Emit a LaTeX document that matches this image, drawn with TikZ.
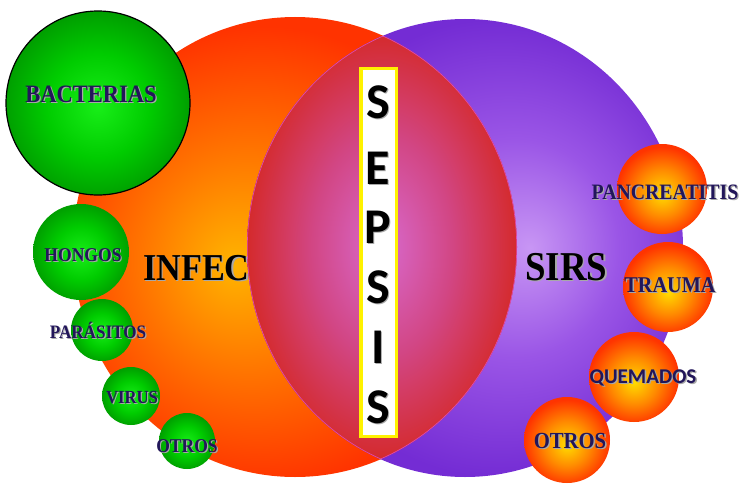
\documentclass[tikz,border=0pt]{standalone}
\usepackage{fontspec}
\setmainfont{Liberation Serif}
\newfontfamily\lblfont[FakeStretch=0.9]{Liberation Serif}
\newfontfamily\sansfont{Carlito}

% palette
\definecolor{orangeIn}{HTML}{FFB400}
\definecolor{orangeMid}{HTML}{FF7A00}
\definecolor{orangeOut}{HTML}{FF3300}
\definecolor{purpleIn}{HTML}{C896F4}
\definecolor{purpleMid}{HTML}{9A55E6}
\definecolor{purpleOut}{HTML}{742CD4}
\definecolor{lensIn}{HTML}{D86ACE}
\definecolor{lensMid}{HTML}{D24684}
\definecolor{lensOut}{HTML}{D42A2C}
\definecolor{lensEdge}{HTML}{E04CB4}
\definecolor{greenIn}{HTML}{18EE18}
\definecolor{greenMid}{HTML}{00CC00}
\definecolor{greenOut}{HTML}{00A000}
\definecolor{ballIn}{HTML}{FFDC00}
\definecolor{ballMid}{HTML}{FF8A00}
\definecolor{ballOut}{HTML}{FF3400}
\definecolor{ink}{HTML}{22165A}
\definecolor{shadowgray}{HTML}{A8A8A8}
\definecolor{frameyellow}{HTML}{FFF200}

% radial shadings (25bp = edge of the shaded shape)
\pgfdeclareradialshading{infecshade}{\pgfpoint{-7bp}{-2bp}}{%
  color(0bp)=(orangeIn); color(11bp)=(orangeMid); color(25bp)=(orangeOut); color(50bp)=(orangeOut)}
\pgfdeclareradialshading{sirsshade}{\pgfpoint{7.5bp}{0bp}}{%
  color(0bp)=(purpleIn); color(12bp)=(purpleMid); color(25bp)=(purpleOut); color(50bp)=(purpleOut)}
\pgfdeclareradialshading{lensshade}{\pgfpoint{0bp}{0bp}}{%
  color(0bp)=(lensIn); color(13bp)=(lensMid); color(25bp)=(lensOut); color(50bp)=(lensOut)}
\pgfdeclareradialshading{greenball}{\pgfpoint{0bp}{-1bp}}{%
  color(0bp)=(greenIn); color(14bp)=(greenMid); color(25bp)=(greenOut); color(50bp)=(greenOut)}
\pgfdeclareradialshading{orangeball}{\pgfpoint{0bp}{-3bp}}{%
  color(0bp)=(ballIn); color(13bp)=(ballMid); color(25bp)=(ballOut); color(50bp)=(ballOut)}

\tikzset{
  ball/.style={circle, inner sep=0pt, minimum size=#1, draw=none},
  gball/.style={ball=#1, shading=greenball},
  oball/.style={ball=#1, shading=orangeball},
  lbl/.style={font=\lblfont\bfseries\fontsize{#1}{#1}\selectfont, text=ink, anchor=base, inner sep=0pt},
  slbl/.style={font=\sansfont\bfseries\fontsize{#1}{#1}\selectfont, text=ink, anchor=base, inner sep=0pt},
  big/.style={font=\lblfont\bfseries\fontsize{#1}{#1}\selectfont, text=black, anchor=base west, inner sep=0pt},
  letter/.style={font=\sansfont\bfseries\fontsize{50}{50}\selectfont, text=black, anchor=base, inner sep=0pt},
}

% text with a soft grey drop shadow: name, position, style, text, offset
\newcommand\shadowtext[5]{%
  \node[#3, text=shadowgray, xshift=#5, yshift=-#5] (#1-sh) at (#2) {#4};
  \node[#3] (#1) at (#2) {#4};}

\begin{document}
\begin{tikzpicture}[x=1pt, y=-1pt]
  \useasboundingbox (0,0) rectangle (744,487);
  \fill[white] (0,0) rectangle (744,487);

  % INFECCION set
  \shade[shading=infecshade] (295,247) ellipse [x radius=222pt, y radius=230pt];
  \shadowtext{infec}{143,280}{big=38}{INFEC}{1.3pt}

  % SIRS set
  \shade[shading=sirsshade] (465,248) ellipse [x radius=218pt, y radius=229pt];

  % overlap of both sets
  \begin{scope}
    \clip (295,247) ellipse [x radius=222pt, y radius=230pt];
    \clip (465,248) ellipse [x radius=218pt, y radius=229pt];
    \shade[shading=lensshade] (247,33) rectangle (517,460);
    \draw[lensEdge, line width=1.2pt] (295,247) ellipse [x radius=222pt, y radius=230pt];
    \draw[lensEdge, line width=1.2pt] (465,248) ellipse [x radius=218pt, y radius=229pt];
  \end{scope}

  \shadowtext{sirs}{525,280}{big=41}{SIRS}{1.3pt}

  % central label
  \node[draw=frameyellow, line width=3.5pt, fill=white, inner sep=0pt,
        minimum width=35.5pt, minimum height=367.5pt] (sepsisbox) at (378.5,252.5) {};
  \foreach \ch/\yy [count=\k] in {S/118.5, E/184.5, P/243.5, S/303.5, I/363.5, S/423.5}
    \shadowtext{sep\k}{378,\yy}{letter}{\ch}{1pt};

  % causes of infection
  \node[gball=184pt, draw=black, line width=1.2pt] (bact) at (98,103) {};
  \shadowtext{bactlbl}{91,102}{lbl=25}{BACTERIAS}{1.3pt}
  \node[gball=96pt] (hongos) at (81,252) {};
  \shadowtext{hongoslbl}{83,261}{lbl=19.5}{HONGOS}{1.2pt}
  \node[gball=62pt] (parasitos) at (102,330) {};
  \shadowtext{parasitoslbl}{98,338}{lbl=19}{PARÁSITOS}{1.2pt}
  \node[gball=58pt] (virus) at (131,396) {};
  \shadowtext{viruslbl}{132,403}{lbl=18.5}{VIRUS}{1.2pt}
  \node[gball=56pt] (otrosA) at (187,441) {};
  \shadowtext{otrosAlbl}{187,452}{lbl=19.5}{OTROS}{1.2pt}

  % causes of SIRS
  \node[oball=90pt] (panc) at (662,189) {};
  \shadowtext{panclbl}{665,199}{lbl=22}{PANCREATITIS}{1.3pt}
  \node[oball=90pt] (trauma) at (668,287) {};
  \shadowtext{traumalbl}{670,292}{lbl=22.5}{TRAUMA}{1.3pt}
  \node[oball=90pt] (quem) at (634,377) {};
  \shadowtext{quemlbl}{643,383}{slbl=21}{QUEMADOS}{1.3pt}
  \node[oball=86pt] (otrosB) at (567,440) {};
  \shadowtext{otrosBlbl}{570,448}{lbl=23}{OTROS}{1.3pt}
\end{tikzpicture}
\end{document}
